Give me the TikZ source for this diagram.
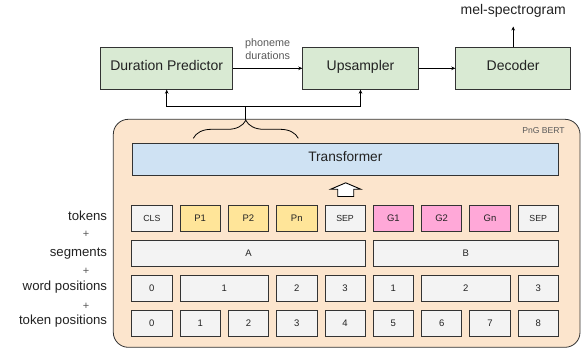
\documentclass[tikz,border=0pt]{standalone}
\usepackage{fontspec}
\setmainfont{Liberation Sans}
\usetikzlibrary{arrows.meta,decorations.pathreplacing}
\definecolor{boxgreen}{HTML}{D9EAD3}
\definecolor{pngbg}{HTML}{FCE5CD}
\definecolor{trblue}{HTML}{CFE2F3}
\definecolor{tokyellow}{HTML}{FFE599}
\definecolor{tokpink}{HTML}{FFA8D8}
\definecolor{cellgray}{HTML}{F3F3F3}
\definecolor{edge}{HTML}{333333}
\definecolor{txt}{HTML}{222222}
\definecolor{soft}{HTML}{595959}
\tikzset{
  blk/.style={draw=edge,line width=0.8pt,inner sep=0pt,text=txt,
    text height=0.72em,text depth=0.2em},
  topbox/.style={blk,fill=boxgreen,minimum height=42pt,font=\fontsize{14}{16}\selectfont},
  cell/.style={blk,minimum height=26pt,font=\fontsize{9.5}{11}\selectfont},
  gcell/.style={cell,fill=cellgray},
  ycell/.style={cell,fill=tokyellow},
  pcell/.style={cell,fill=tokpink},
  sm/.style={font=\fontsize{8.8}{10}\selectfont},
  lab/.style={inner sep=0pt,anchor=east,text=txt,font=\fontsize{13.2}{15}\selectfont,
    text height=0.72em,text depth=0.2em},
  plus/.style={inner sep=0pt,text=soft,font=\fontsize{11}{12}\selectfont},
  arr/.style={draw=black,line width=0.8pt,-{Stealth[length=4pt,width=3.6pt]}},
  ln/.style={draw=black,line width=0.8pt},
}
\newcommand\cellbox[6]{%
  \pgfmathsetmacro\xa{131.7+#2*48.3}%
  \pgfmathsetmacro\xb{131.7+#3*48.3+40.3}%
  \pgfmathsetmacro\ww{\xb-\xa}%
  \pgfmathsetmacro\xc{(\xa+\xb)/2}%
  \node[#5,minimum width=\ww pt] (#1) at (\xc,#4) {#6};%
}
\begin{document}
\begin{tikzpicture}[x=1pt,y=-1pt]
\useasboundingbox (0,0) rectangle (583,349);
% top pipeline
\node[topbox,minimum width=132pt] (dp) at (166.7,68.3) {Duration Predictor};
\node[topbox,minimum width=115.6pt] (up) at (360.5,68.3) {Upsampler};
\node[topbox,minimum width=115pt] (dec) at (513.2,68.3) {Decoder};
\node[inner sep=0pt,text=txt,font=\fontsize{14}{16}\selectfont] (mel) at (513.2,11) {mel-spectrogram};
\coordinate (melend) at (513.2,26.5);
\draw[arr] (dp.east) -- (up.west);
\node[inner sep=0pt,text=soft,align=center,font=\fontsize{10.8}{13}\selectfont] (pd) at (267.7,49.5) {phoneme\\durations};
\draw[arr] (up.east) -- (dec.west);
\draw[arr] (dec.north) -- (melend);
% PnG BERT
\node[draw=edge,line width=0.8pt,fill=pngbg,rounded corners=15pt,inner sep=0pt,
  minimum width=466.7pt,minimum height=228pt] (png) at (346.65,233.3) {};
\node[inner sep=0pt,text=soft,font=\fontsize{8.6}{10}\selectfont] (pnglab) at (543.5,130.7) {PnG BERT};
\node[blk,fill=trblue,minimum width=426pt,minimum height=31.7pt,font=\fontsize{13.7}{16}\selectfont] (tr) at (345.3,159.2) {Transformer};
% brace and connections
\draw[ln,decorate,decoration={brace,amplitude=18pt}] (193.3,138.3) -- (298.3,138.3);
\coordinate (bt) at (245.8,119.8);
\coordinate (jn) at (245.8,106);
\draw[ln] (bt) -- (jn);
\draw[arr] (jn) -| (dp.south);
\draw[arr] (jn) -| (up.south);
% hollow arrow
\draw[draw=black,line width=0.9pt,fill=white,line join=miter]
  (345.7,182.8) -- (360.7,189.2) -- (353.7,189.2) -- (353.7,196.5) -- (337.7,196.5)
  -- (337.7,189.2) -- (330.7,189.2) -- cycle;
% tokens row
\def\ra{218.7}\def\rb{253.7}\def\rc{288.7}\def\rd{323.7}
\cellbox{t0}{0}{0}{\ra}{gcell,sm}{CLS}
\cellbox{t1}{1}{1}{\ra}{ycell}{P1}
\cellbox{t2}{2}{2}{\ra}{ycell}{P2}
\cellbox{t3}{3}{3}{\ra}{ycell}{Pn}
\cellbox{t4}{4}{4}{\ra}{gcell,sm}{SEP}
\cellbox{t5}{5}{5}{\ra}{pcell}{G1}
\cellbox{t6}{6}{6}{\ra}{pcell}{G2}
\cellbox{t7}{7}{7}{\ra}{pcell}{Gn}
\cellbox{t8}{8}{8}{\ra}{gcell,sm}{SEP}
% segments
\cellbox{sa}{0}{4}{\rb}{gcell}{A}
\cellbox{sb}{5}{8}{\rb}{gcell}{B}
% word positions
\cellbox{w0}{0}{0}{\rc}{gcell}{0}
\cellbox{w1}{1}{2}{\rc}{gcell}{1}
\cellbox{w2}{3}{3}{\rc}{gcell}{2}
\cellbox{w3}{4}{4}{\rc}{gcell}{3}
\cellbox{w4}{5}{5}{\rc}{gcell}{1}
\cellbox{w5}{6}{7}{\rc}{gcell}{2}
\cellbox{w6}{8}{8}{\rc}{gcell}{3}
% token positions
\foreach \i in {0,...,8} {\cellbox{p\i}{\i}{\i}{\rd}{gcell}{\i}}
% left labels
\node[lab] (ltok) at (107.3,218) {tokens};
\node[plus] (pl1) at (86,234.3) {+};
\node[lab] (lseg) at (107.3,253.5) {segments};
\node[plus] (pl2) at (86,271.8) {+};
\node[lab] (lwp) at (107.3,287.8) {word positions};
\node[plus] (pl3) at (86,306.2) {+};
\node[lab] (ltp) at (107.3,321.5) {token positions};
\end{tikzpicture}
\end{document}
